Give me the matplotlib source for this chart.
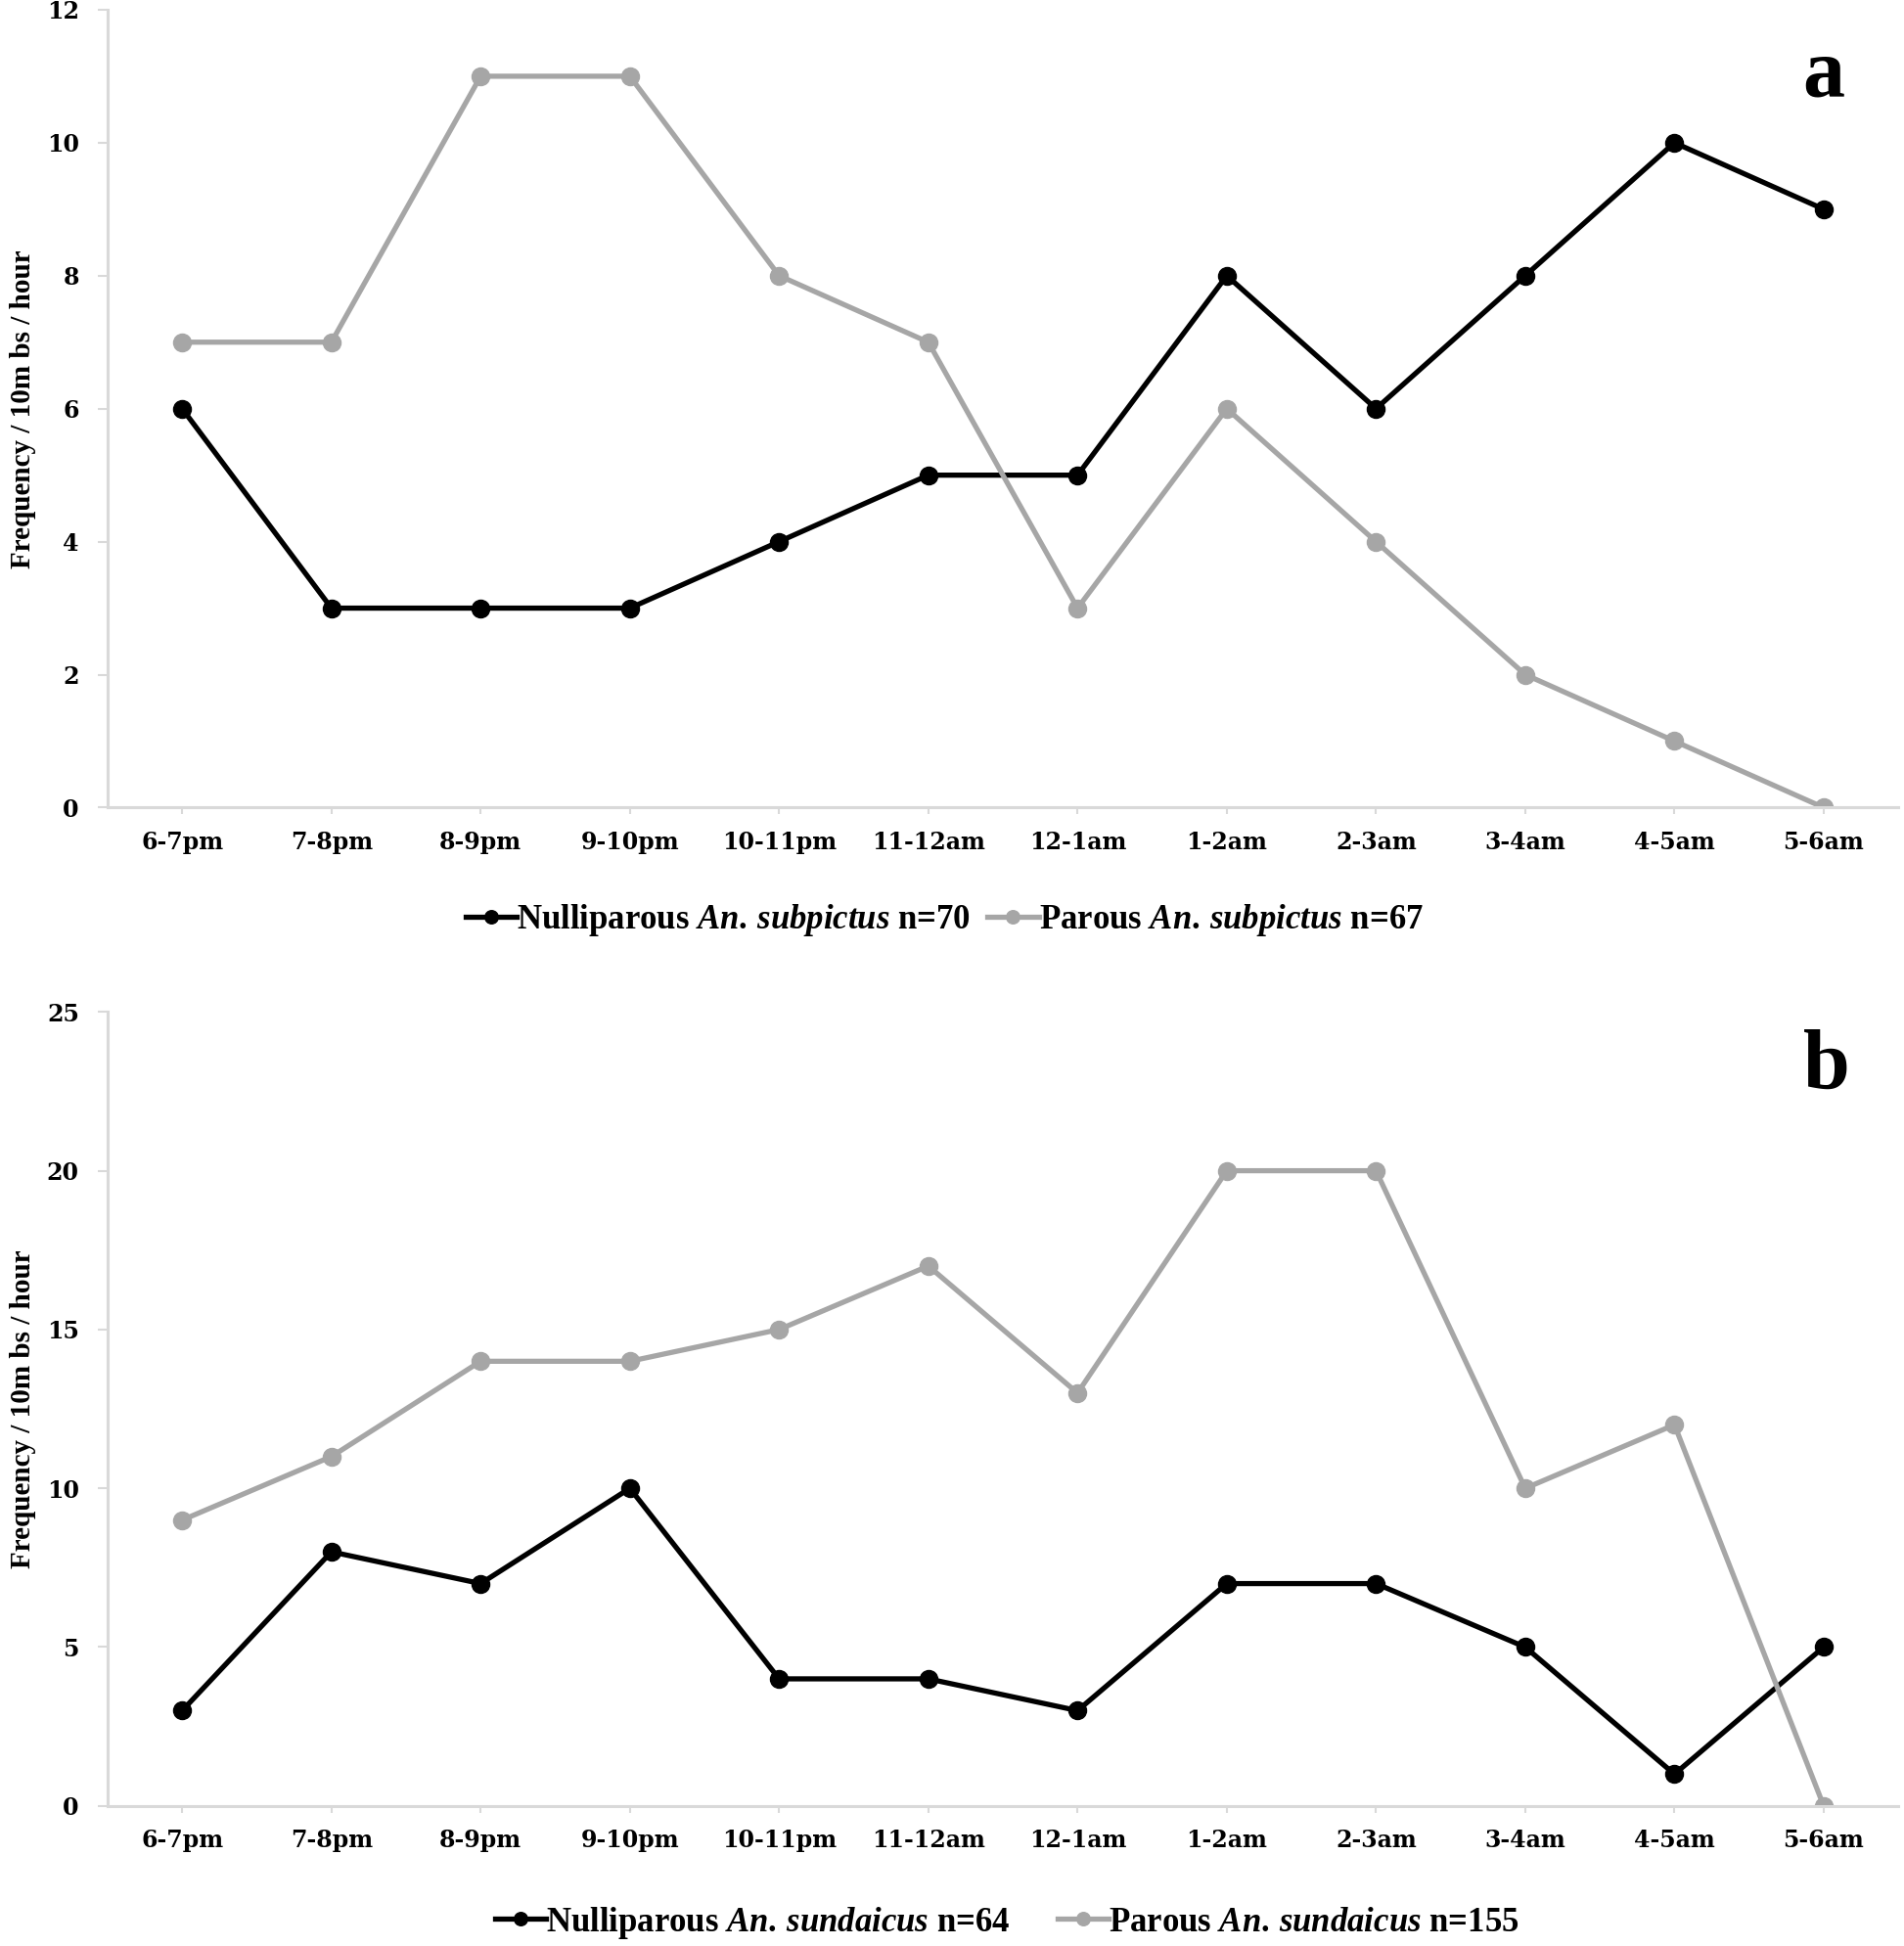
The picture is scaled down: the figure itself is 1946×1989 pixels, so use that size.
import matplotlib
matplotlib.use("Agg")
import matplotlib.pyplot as plt

plt.rcParams["mathtext.fontset"] = "custom"
plt.rcParams["mathtext.rm"] = "Liberation Serif:bold"
plt.rcParams["mathtext.it"] = "Liberation Serif:italic:bold"

# hourly time slots
hours = ["6-7pm", "7-8pm", "8-9pm", "9-10pm", "10-11pm", "11-12am",
         "12-1am", "1-2am", "2-3am", "3-4am", "4-5am", "5-6am"]

# panel a: An. subpictus
subpictus_nulli = [6, 3, 3, 3, 4, 5, 5, 8, 6, 8, 10, 9]
subpictus_parous = [7, 7, 11, 11, 8, 7, 3, 6, 4, 2, 1, 0]

# panel b: An. sundaicus
sundaicus_nulli = [3, 8, 7, 10, 4, 4, 3, 7, 7, 5, 1, 5]
sundaicus_parous = [9, 11, 14, 14, 15, 17, 13, 20, 20, 10, 12, 0]

BLACK = "#000000"
GRAY = "#a6a6a6"
SPINE = "#d9d9d9"

fig = plt.figure(figsize=(19.46, 19.89), dpi=100)
ax1 = fig.add_axes([0.0565, 0.585, 0.9405, 0.410])
ax2 = fig.add_axes([0.0565, 0.072, 0.9405, 0.408])


def style_axes(ax, ymax, ystep):
    ax.set_xlim(-0.5, len(hours) - 0.5)
    ax.set_ylim(0, ymax)
    ax.set_yticks(range(0, ymax + 1, ystep))
    ax.set_xticks(range(len(hours)))
    ax.set_xticklabels(hours)
    for s in ["top", "right"]:
        ax.spines[s].set_visible(False)
    for s in ["left", "bottom"]:
        ax.spines[s].set_color(SPINE)
        ax.spines[s].set_linewidth(2.2)
    ax.tick_params(axis="y", length=7, width=1.5, color=SPINE, pad=14)
    ax.tick_params(axis="x", length=5, width=1.5, color=SPINE, pad=12)
    for lab in ax.get_xticklabels() + ax.get_yticklabels():
        lab.set_fontfamily("DejaVu Serif")
        lab.set_fontweight("bold")
        lab.set_fontsize(17)
    ax.set_ylabel("Frequency / 10m bs / hour", fontfamily="Liberation Serif",
                  fontweight="bold", fontsize=21, labelpad=8)


x = range(len(hours))
l1, = ax1.plot(x, subpictus_nulli, color=BLACK, lw=3.8, marker="o", ms=13)
l2, = ax1.plot(x, subpictus_parous, color=GRAY, lw=3.8, marker="o", ms=13)
style_axes(ax1, 12, 2)
ax1.text(0.958, 0.917, "a", transform=ax1.transAxes, ha="center", va="center",
         fontfamily="Liberation Serif", fontweight="bold", fontsize=62)

l3, = ax2.plot(x, sundaicus_nulli, color=BLACK, lw=3.8, marker="o", ms=13)
l4, = ax2.plot(x, sundaicus_parous, color=GRAY, lw=3.8, marker="o", ms=13)
style_axes(ax2, 25, 5)
ax2.text(0.96, 0.93, "b", transform=ax2.transAxes, ha="center", va="center",
         fontfamily="Liberation Serif", fontweight="bold", fontsize=62)

leg_font = {"family": "Liberation Serif", "weight": "bold", "size": 25}
fig.legend([l1, l2],
           [r"Nulliparous $\mathit{An.\,subpictus}$ n=70",
            r"Parous $\mathit{An.\,subpictus}$ n=67"],
           loc="center", bbox_to_anchor=(0.496, 0.527), ncol=2, frameon=False,
           prop=leg_font, handlelength=1.5, handletextpad=0.0,
           columnspacing=0.5, markerscale=0.75)
fig.legend([l3, l4],
           [r"Nulliparous $\mathit{An.\,sundaicus}$ n=64",
            r"Parous $\mathit{An.\,sundaicus}$ n=155"],
           loc="center", bbox_to_anchor=(0.529, 0.012), ncol=2, frameon=False,
           prop=leg_font, handlelength=1.5, handletextpad=0.0,
           columnspacing=1.4, markerscale=0.75)

fig.savefig("out.png", dpi=100)
